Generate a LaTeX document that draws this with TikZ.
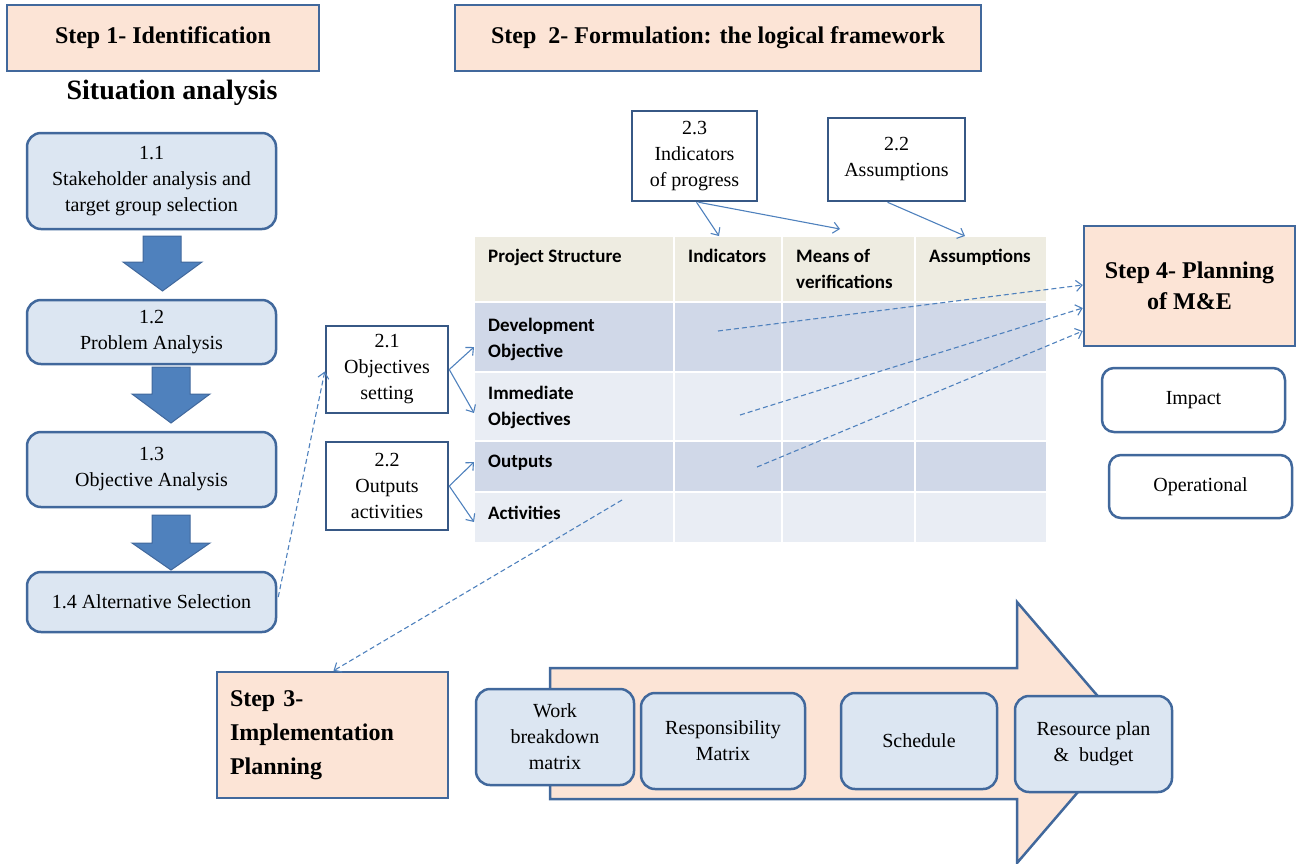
\documentclass[tikz,border=0pt]{standalone}
\usepackage{fontspec}
\setmainfont{Liberation Serif}
\newfontfamily\tabfont{Carlito}
\usetikzlibrary{arrows.meta}
\definecolor{peach}{HTML}{FCE4D6}
\definecolor{edgeblue}{HTML}{41689C}
\definecolor{boxblue}{HTML}{DCE6F2}
\definecolor{fatblue}{HTML}{4F81BD}
\definecolor{linkblue}{HTML}{4F81BD}
\definecolor{hdrbeige}{HTML}{EEECE1}
\definecolor{rowdark}{HTML}{D0D8E8}
\definecolor{rowlight}{HTML}{E9EDF4}
\begin{document}
\begin{tikzpicture}[x=1pt,y=-1pt,
  stepbox/.style={draw=edgeblue,line width=2.5pt,fill=peach,inner sep=0pt,align=center,
    font=\fontsize{24}{31}\selectfont\bfseries},
  roundbox/.style={draw=edgeblue,line width=2.5pt,fill=boxblue,rounded corners=14pt,inner sep=0pt,
    align=center,font=\fontsize{20}{26}\selectfont},
  plainbox/.style={draw=edgeblue!85!black,line width=2.5pt,fill=white,inner sep=0pt,align=center,
    font=\fontsize{20}{26}\selectfont},
  levelbox/.style={draw=edgeblue,line width=2.5pt,fill=white,rounded corners=12pt,inner sep=0pt,
    align=center,font=\fontsize{20}{26}\selectfont},
  fatarrow/.style={fill=fatblue,draw=edgeblue,line width=1pt,line join=miter},
  cell/.style={fill=#1,draw=white,line width=2pt},
  celltext/.style={anchor=north west,inner sep=0pt,align=left,
    font=\tabfont\fontsize{19}{26}\selectfont\bfseries},
  link/.style={draw=linkblue,line width=1.1pt,-{Straight Barb[length=6pt,width=11pt]}},
  dashlink/.style={link,dash pattern=on 5pt off 3pt}
]
\useasboundingbox (0,0) rectangle (1297,863);

% ---------- Step 1: identification ----------
\node[stepbox,minimum width=312pt,minimum height=66pt] (s1) at (163,38) {Step 1- Identification};
\node[inner sep=0pt,font=\fontsize{28}{34}\selectfont\bfseries] (sit) at (172,93) {Situation analysis};

\node[roundbox,minimum width=249pt,minimum height=96pt] (b11) at (151.5,181)
  {1.1\\Stakeholder analysis and\\target group selection};
\node[roundbox,minimum width=249pt,minimum height=64pt] (b12) at (151.5,332)
  {1.2\\Problem Analysis};
\node[roundbox,minimum width=249pt,minimum height=75pt] (b13) at (151.5,469.5)
  {1.3\\Objective Analysis};
\node[roundbox,minimum width=249pt,minimum height=60pt] (b14) at (151.5,602)
  {1.4 Alternative Selection};

% block arrows between the analysis steps
\path[fatarrow] (143,236) -- (181,236) -- (181,262) -- (202,262) -- (162.5,291)
  -- (123,262) -- (143,262) -- cycle;
\path[fatarrow] (152,367) -- (190,367) -- (190,394) -- (210,394) -- (171,423)
  -- (132,394) -- (152,394) -- cycle;
\path[fatarrow] (152,515) -- (190,515) -- (190,543) -- (210,543) -- (171,570)
  -- (132,543) -- (152,543) -- cycle;

% ---------- Step 2: logical framework ----------
\node[stepbox,minimum width=526pt,minimum height=66pt] (s2) at (718,38)
  {Step \ 2- Formulation: the logical framework};

\node[plainbox,minimum width=125pt,minimum height=90pt] (ind) at (694.5,156)
  {2.3\\Indicators\\of progress};
\node[plainbox,minimum width=137pt,minimum height=83pt] (asm) at (896.5,159.5)
  {2.2\\Assumptions};

% logframe matrix
\foreach \xa/\xb [count=\c] in {474/674,674/782,782/915,915/1047}{
  \path[cell=hdrbeige] (\xa,236) rectangle (\xb,302);
  \path[cell=rowdark]  (\xa,302) rectangle (\xb,372);
  \path[cell=rowlight] (\xa,372) rectangle (\xb,441);
  \path[cell=rowdark]  (\xa,441) rectangle (\xb,492);
  \path[cell=rowlight] (\xa,492) rectangle (\xb,543);
}
\node[celltext] (hps) at (488,249) {Project Structure};
\node[celltext] (hin) at (688,249) {Indicators};
\node[celltext] (hmv) at (796,249) {Means of\\verifications};
\node[celltext] (has) at (929,249) {Assumptions};
\node[celltext] (rdo) at (488,318) {Development\\Objective};
\node[celltext] (rio) at (488,386) {Immediate\\Objectives};
\node[celltext] (rou) at (488,455) {Outputs};
\node[celltext] (rac) at (488,506) {Activities};

\coordinate (tind) at (719,236);
\coordinate (tmv)  at (840,229);
\coordinate (tas)  at (965,236);
\draw[link] (ind.south) ++(2,0) -- (tind);
\draw[link] (ind.south) ++(4,0) -- (tmv);
\draw[link] (asm.south) ++(-9,0) -- (tas);

\node[plainbox,minimum width=122pt,minimum height=87pt] (b21) at (387,369.5)
  {2.1\\Objectives\\setting};
\node[plainbox,minimum width=122pt,minimum height=88pt] (b22) at (387,486)
  {2.2\\Outputs\\activities};

\coordinate (edo) at (474,347);
\coordinate (eio) at (474,413);
\coordinate (eou) at (474,462);
\coordinate (eac) at (474,522);
\draw[link] (b21.east) -- (edo);
\draw[link] (b21.east) -- (eio);
\draw[link] (b22.east) -- (eou);
\draw[link] (b22.east) -- (eac);

% ---------- Step 4: M&E ----------
\node[stepbox,minimum width=211pt,minimum height=120pt] (s4) at (1189.5,286)
  {Step 4- Planning\\of M\&E};
\node[levelbox,minimum width=183pt,minimum height=64pt] (imp) at (1193.5,400) {Impact};
\node[levelbox,minimum width=183pt,minimum height=63pt] (ope) at (1200.5,486.5) {Operational};

\coordinate (mdo) at (718,331);
\coordinate (mio) at (740,415);
\coordinate (mou) at (757,467);
\draw[dashlink] (mdo) -- ([yshift=1pt]s4.west);
\draw[dashlink] (mio) -- ([yshift=-22pt]s4.west);
\draw[dashlink] (mou) -- ([yshift=-45pt]s4.west);

% ---------- Step 3: implementation ----------
\node[stepbox,minimum height=126pt,text width=205pt,inner sep=13pt,align=left,
  font=\fontsize{24}{34}\selectfont\bfseries] (s3) at (332.5,735)
  {Step 3-\\Implementation\\Planning};

\draw[dashlink] (b14.east) ++(1,-5) -- ([yshift=-2pt]b21.west);
\coordinate (mac) at (622,500);
\draw[dashlink] (mac) -- ([xshift=1pt]s3.north);

% process arrow with the planning tools
\path[fill=peach,draw=edgeblue,line width=2.5pt,line join=miter]
  (550,668) -- (1017,668) -- (1017,602) -- (1129,732.5) -- (1017,863)
  -- (1017,799) -- (550,799) -- cycle;

\node[roundbox,minimum width=158pt,minimum height=96pt] (wbm) at (555,737)
  {Work\\breakdown\\matrix};
\node[roundbox,minimum width=164pt,minimum height=96pt] (rsp) at (723,741)
  {Responsibility\\Matrix};
\node[roundbox,minimum width=156pt,minimum height=96pt] (sch) at (919,741)
  {Schedule};
\node[roundbox,minimum width=157pt,minimum height=96pt] (res) at (1093.5,744)
  {Resource plan\\\& \ budget};
\end{tikzpicture}
\end{document}
